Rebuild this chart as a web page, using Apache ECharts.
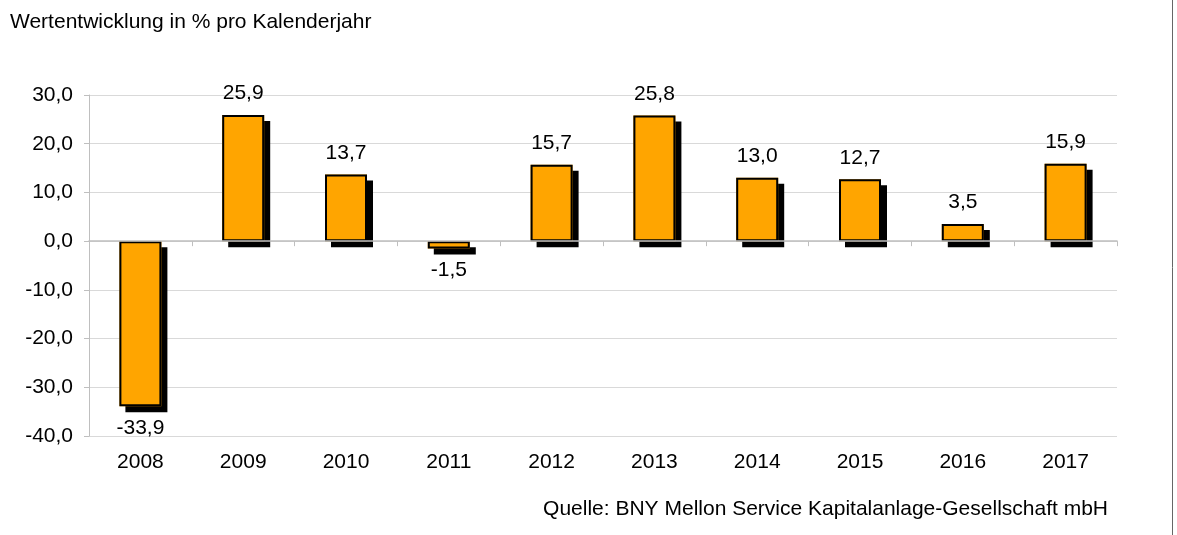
<!DOCTYPE html>
<html><head><meta charset="utf-8">
<script src="https://cdn.jsdelivr.net/npm/echarts@6/dist/echarts.min.js"></script>
<style>html,body{margin:0;padding:0;background:#fff}#c{width:1177px;height:535px}</style>
</head><body><div id="c"></div>
<script>
var categories = ['2008','2009','2010','2011','2012','2013','2014','2015','2016','2017'];
var values = [-33.9, 25.9, 13.7, -1.5, 15.7, 25.8, 13.0, 12.7, 3.5, 15.9];
var yTicks = [-40, -30, -20, -10, 0, 10, 20, 30];
var titleText = 'Wertentwicklung in % pro Kalenderjahr';
var sourceText = 'Quelle: BNY Mellon Service Kapitalanlage-Gesellschaft mbH';

function fmt(v){ return v.toFixed(1).replace('.', ','); }
var FONT = '"Liberation Sans", Arial, sans-serif';
var FS = 21;
var chart = echarts.init(document.getElementById('c'));
chart.setOption({
  animation: false,
  backgroundColor: '#fff',
  textStyle: {fontFamily: FONT},
  title: [{text: titleText, left: 10, top: 12, padding: 0, textStyle: {fontSize: FS, fontWeight: 'normal', color: '#000', fontFamily: FONT}},
          {text: sourceText, right: 69, top: 499, padding: 0, textStyle: {fontSize: FS, fontWeight: 'normal', color: '#000', fontFamily: FONT}}],
  grid: {left: 89, right: 60, top: 95, bottom: 99},
  xAxis: [{
    type: 'category', data: categories, position: 'bottom',
    axisLine: {show: false, onZero: false}, axisTick: {show: false},
    axisLabel: {fontSize: FS, color: '#000', margin: 16, fontFamily: FONT},
    splitLine: {show: false}
  }, {
    type: 'category', data: categories, position: 'bottom', z: 3,
    axisLine: {show: true, onZero: true, lineStyle: {color: '#bfbfbf', width: 1.5}},
    axisTick: {show: true, length: 5, lineStyle: {color: '#bfbfbf'}},
    axisLabel: {show: false}
  }],
  yAxis: {
    type: 'value', min: yTicks[0], max: yTicks[yTicks.length-1], interval: 10,
    axisLine: {show: true, lineStyle: {color: '#bfbfbf'}},
    axisTick: {show: true, length: 5, lineStyle: {color: '#bfbfbf'}},
    axisLabel: {fontSize: FS, color: '#000', margin: 16, fontFamily: FONT, formatter: function(v){ return fmt(v); }},
    splitLine: {lineStyle: {color: '#d9d9d9'}}
  },
  series: [{
    type: 'bar', xAxisIndex: 1, data: values, barWidth: 42, z: 2,
    itemStyle: {color: '#ffa500', borderWidth: 0,
      shadowColor: '#000', shadowBlur: 0, shadowOffsetX: 6, shadowOffsetY: 6}
  }, {
    type: 'bar', xAxisIndex: 1, barWidth: 42, barGap: '-100%', z: 2,
    data: values.map(function(v){
      return v < 0 ? {value: v, label: {position: 'bottom'}} : v;
    }),
    itemStyle: {color: 'rgba(0,0,0,0)', borderColor: '#000', borderWidth: 2},
    label: {show: true, position: 'top', distance: 11, fontSize: FS, color: '#000', fontFamily: FONT,
      formatter: function(p){ return fmt(p.value); }}
  }],
  graphic: [{type: 'line', shape: {x1: 1172.5, y1: 0, x2: 1172.5, y2: 535}, style: {stroke: '#666', lineWidth: 1}}]
});
</script></body></html>
